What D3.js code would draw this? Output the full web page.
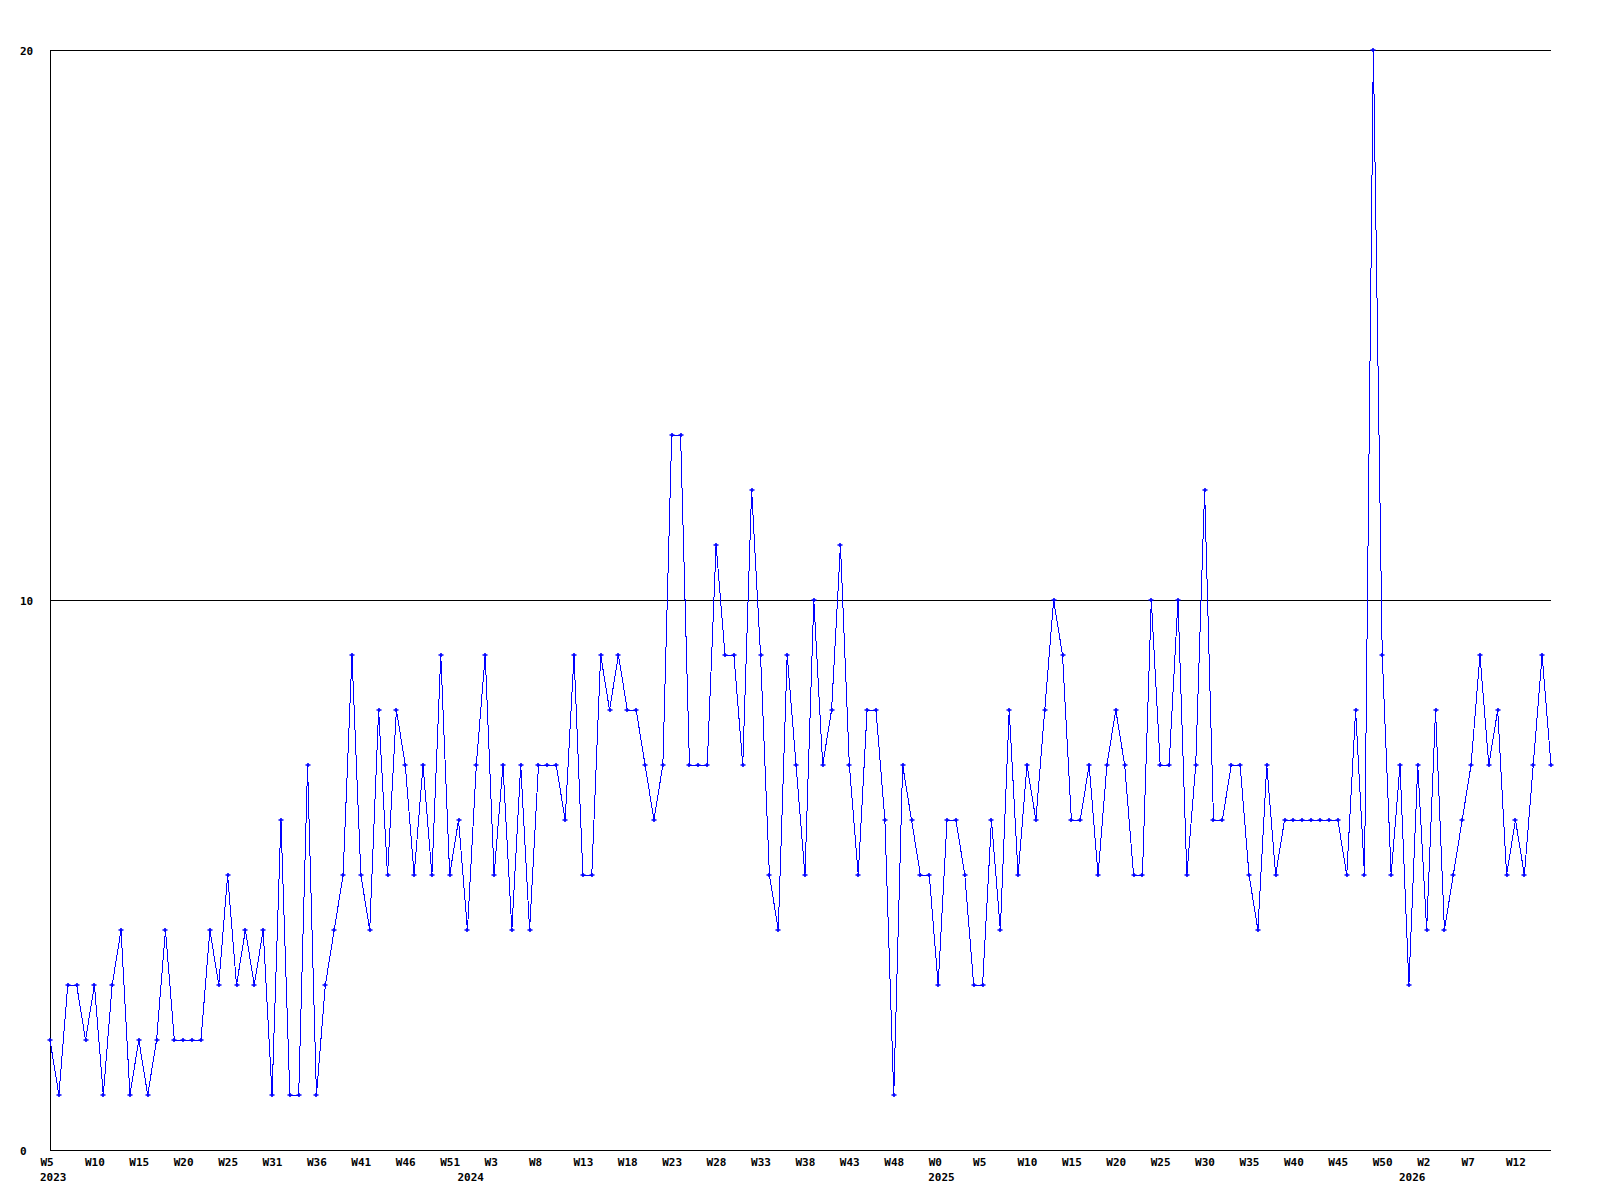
<!DOCTYPE html>
<html>
<head>
<meta charset="utf-8">
<script src="https://cdn.jsdelivr.net/npm/d3@7"></script>
<style>
  html, body { margin: 0; padding: 0; background: #fff; }
  svg { display: block; }
  text { font-family: "DejaVu Sans Mono", monospace; font-weight: bold; font-size: 11px; fill: #000; }
</style>
</head>
<body>
<svg id="chart" width="1600" height="1200"></svg>
<script>
// Weekly values, 2023 W5 .. 2026 W14
const values = [
  2,1,3,3,2,3,1,3,4,1,
  2,1,2,4,2,2,2,2,4,3,
  5,3,4,3,4,1,6,1,1,7,
  1,3,4,5,9,5,4,8,5,8,
  7,5,7,5,9,5,6,4,7,9,
  5,7,4,7,4,7,7,7,6,9,
  5,5,9,8,9,8,8,7,6,7,
  13,13,7,7,7,11,9,9,7,12,
  9,5,4,9,7,5,10,7,8,11,
  7,5,8,8,6,1,7,6,5,5,
  3,6,6,5,3,3,6,4,8,5,
  7,6,8,10,9,6,6,7,5,7,
  8,7,5,5,10,7,7,10,5,7,
  12,6,6,7,7,5,4,7,5,6,
  6,6,6,6,6,6,5,8,5,20,
  9,5,7,3,7,4,8,4,5,6,
  7,9,7,8,5,6,5,7,9,7
];
// Week tick labels, one every 5 points
const tickLabels = [
  "W5","W10","W15","W20","W25","W31","W36","W41","W46","W51",
  "W3","W8","W13","W18","W23","W28","W33","W38","W43","W48",
  "W0","W5","W10","W15","W20","W25","W30","W35","W40","W45",
  "W50","W2","W7","W12"
];
const tickStep = 5;
// Year labels and the point index where each year starts
const yearLabels = ["2023","2024","2025","2026"];
const yearIndex = [0, 47, 100, 153];
const yTicks = [0, 10, 20];

const svg = d3.select("#chart");
const mLeft = 50, mRight = 1551, mTop = 50, mBottom = 1150;

const x = d3.scaleLinear().domain([0, values.length - 1]).range([mLeft, mRight]);
const y = d3.scaleLinear().domain([0, 20]).range([mBottom, mTop]);

// Y axis with gridlines
const yAxis = svg.append("g")
  .attr("transform", `translate(${mLeft},0)`)
  .call(d3.axisLeft(y).tickValues(yTicks).tickSize(-(mRight - mLeft)).tickFormat(d3.format("d")));
yAxis.select(".domain").remove();
yAxis.selectAll(".tick line").attr("stroke", "#000").attr("shape-rendering", "crispEdges");
yAxis.selectAll(".tick text")
  .attr("x", 20 - mLeft).attr("dy", null).attr("y", 4)
  .attr("text-anchor", "start")
  .style("font-family", "'DejaVu Sans Mono', monospace").style("font-size", "11px").style("font-weight", "bold");

// left axis line
svg.append("line")
  .attr("x1", mLeft + 0.5).attr("x2", mLeft + 0.5).attr("y1", mTop).attr("y2", mBottom + 0.5)
  .attr("stroke", "#000").attr("shape-rendering", "crispEdges");
// bottom axis line
svg.append("line")
  .attr("x1", mLeft).attr("x2", mRight).attr("y1", mBottom + 0.5).attr("y2", mBottom + 0.5)
  .attr("stroke", "#000").attr("shape-rendering", "crispEdges");

// X axis labels
const tickIdx = tickLabels.map((_, i) => i * tickStep);
const xAxis = svg.append("g")
  .attr("transform", `translate(0,${mBottom})`)
  .call(d3.axisBottom(x).tickValues(tickIdx).tickSize(0).tickFormat((d, i) => tickLabels[i]));
xAxis.select(".domain").remove();
xAxis.selectAll(".tick text")
  .attr("text-anchor", "start").attr("x", -10).attr("dy", null).attr("y", 16)
  .style("font-family", "'DejaVu Sans Mono', monospace").style("font-size", "11px").style("font-weight", "bold");

svg.append("g").selectAll("text")
  .data(yearLabels)
  .join("text")
  .attr("x", (d, i) => x(yearIndex[i]) - 10)
  .attr("y", mBottom + 31)
  .text(d => d);

// Line
const line = d3.line().x((d, i) => x(i)).y(d => y(d));
svg.append("path")
  .datum(values)
  .attr("d", line)
  .attr("fill", "none")
  .attr("stroke", "#0000ff")
  .attr("stroke-width", 1)
  .attr("shape-rendering", "crispEdges");

// Markers
svg.append("g").selectAll("path")
  .data(values)
  .join("path")
  .attr("transform", (d, i) => `translate(${Math.round(x(i))},${Math.round(y(d))})`)
  .attr("d", "M-2.5,0H2.5M0,-2V2")
  .attr("stroke", "#0000ff")
  .attr("stroke-width", 1.6)
  .attr("fill", "none");
</script>
</body>
</html>
